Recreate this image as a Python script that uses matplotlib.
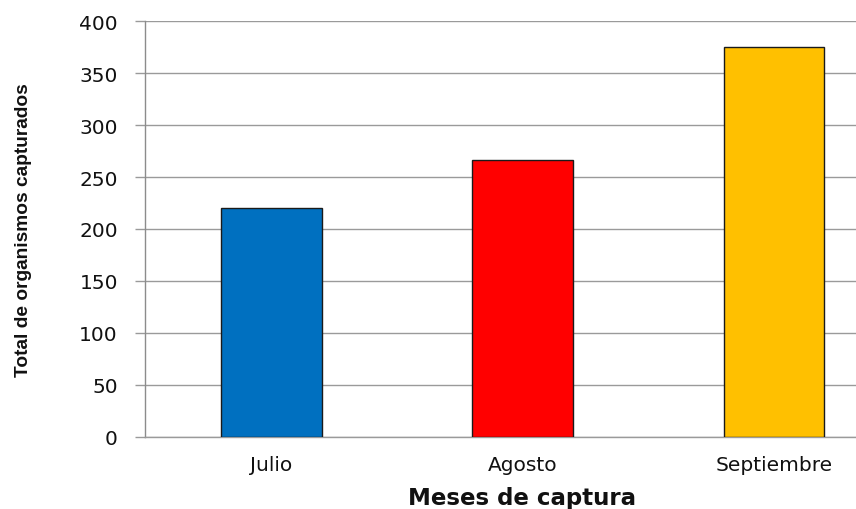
import matplotlib
matplotlib.use("Agg")
import matplotlib.pyplot as plt

# Organisms captured per sampling month
meses = ["Julio", "Agosto", "Septiembre"]
totales = [220, 266, 375]
colores = ["#0070C0", "#FF0000", "#FFC000"]
yticks = [0, 50, 100, 150, 200, 250, 300, 350, 400]

W, H = 856, 510
fig = plt.figure(figsize=(W / 100, H / 100), dpi=100)
ax = fig.add_axes([145 / W, (H - 437.5) / H, 1 - 145 / W, (437.5 - 22.3) / H])

x = list(range(len(meses)))
ax.bar(x, totales, width=0.4, color=colores, edgecolor="#1a1a1a", linewidth=1.0, zorder=3)

ax.set_ylim(0, 400)
ax.set_xlim(-0.503, 2.326)
ax.set_yticks(yticks)
ax.set_yticklabels([str(v) for v in yticks], fontsize=14.5, family="DejaVu Sans", color="#111111")
ax.set_xticks(x)
ax.set_xticklabels(meses, fontsize=14.5, family="DejaVu Sans", color="#111111")

ax.grid(axis="y", color="#9a9a9a", linewidth=1.0, zorder=0)
ax.set_axisbelow(True)

for s in ("top", "right"):
    ax.spines[s].set_visible(False)
ax.spines["left"].set_color("#8c8c8c")
ax.spines["bottom"].set_color("#9a9a9a")
ax.spines["left"].set_linewidth(1.0)
ax.spines["bottom"].set_linewidth(1.0)

ax.tick_params(axis="y", length=7.5, width=1.0, color="#9a9a9a", pad=12)
ax.tick_params(axis="x", length=0, pad=13)

ax.set_xlabel("Meses de captura", fontsize=16.5, fontweight="bold", family="DejaVu Sans",
              color="#111111", va="top")
ax.xaxis.set_label_coords((522 - 145) / (W - 145), -(487 - 437.5) / (437.5 - 22.3))
ax.set_ylabel("Total de organismos capturados", fontsize=13.8, fontweight="bold",
              family=["Liberation Sans", "DejaVu Sans"], color="#111111", va="center")
ax.yaxis.set_label_coords(-(145 - 24) / (W - 145), 0.5)

fig.savefig("out.png", dpi=100)
